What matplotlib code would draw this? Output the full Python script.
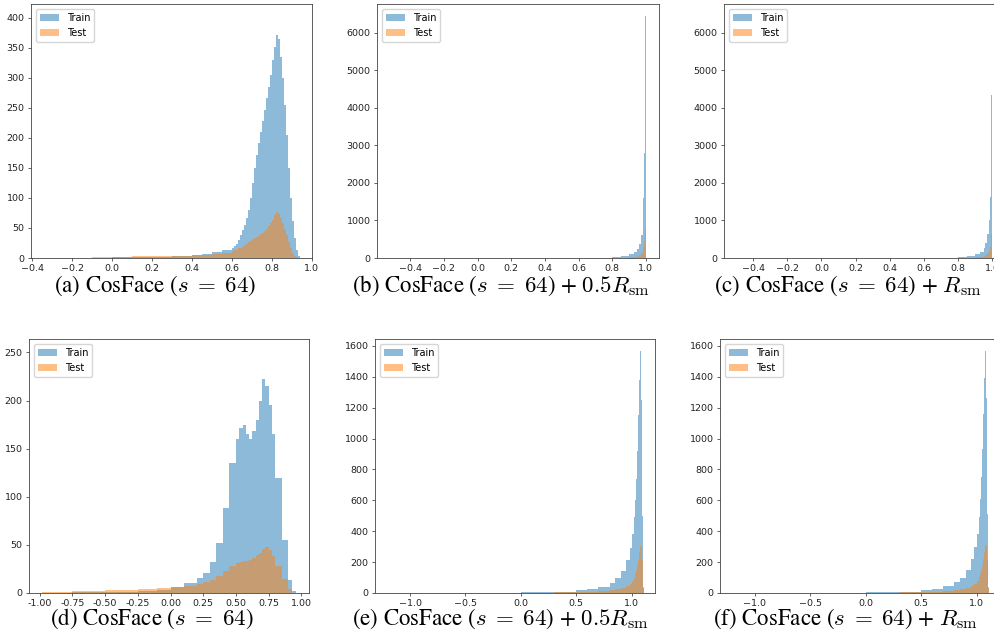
import numpy as np
import matplotlib
matplotlib.use('Agg')
import matplotlib.pyplot as plt

plt.rcParams['mathtext.fontset'] = 'cm'

# ---- histogram data: shared bin edges, per-bin heights for train / test ----
edges_a = [-0.34, -0.2, -0.1, 0.0, 0.1, 0.2, 0.3, 0.4, 0.45, 0.5, 0.55, 0.6,
           0.61, 0.62, 0.63, 0.64, 0.65, 0.66, 0.67, 0.68, 0.69, 0.70, 0.71,
           0.72, 0.73, 0.74, 0.75, 0.76, 0.77, 0.78, 0.79, 0.80, 0.81, 0.82,
           0.83, 0.84, 0.85, 0.86, 0.87, 0.88, 0.89, 0.90, 0.91, 0.92, 0.93,
           0.94]
train_a = [0.3, 0.5, 0.8, 1, 1.5, 2, 3, 4.5, 6, 10, 14,
           17, 20, 24, 30, 38, 46, 55, 66, 80, 100, 125, 150, 172, 192, 210,
           228, 246, 266, 285, 305, 330, 352, 372, 365, 335, 300, 255, 205,
           150, 100, 62, 33, 14, 4]
test_a = [0.5, 0.8, 1.2, 2, 3, 3.5, 4, 4.5, 5.5, 7, 9,
          12, 13, 14, 16, 17, 19, 21, 23, 26, 28, 31, 33, 35, 37, 40, 42,
          45, 49, 53, 58, 64, 71, 77, 74, 66, 58, 48, 38, 27, 17, 9, 4, 1.5,
          0.5]

edges_b = [-0.52, 0.0, 0.4, 0.6, 0.7, 0.8, 0.85, 0.9, 0.93, 0.95, 0.96, 0.97,
           0.98, 0.985, 0.99, 0.994, 0.997, 1.0]
train_b = [0.2, 1, 3, 6, 12, 25, 50, 95, 160, 250, 380, 620, 1000, 1600,
           2800, 4300, 6450]
test_b = [0.2, 0.5, 1, 2, 3, 5, 10, 18, 30, 45, 70, 120, 190, 300, 450,
          620, 760]

edges_c = [-0.52, 0.0, 0.4, 0.6, 0.7, 0.8, 0.85, 0.9, 0.93, 0.95, 0.96, 0.97,
           0.98, 0.985, 0.99, 0.994, 0.997, 1.0]
train_c = [0.2, 1, 3, 6, 12, 26, 52, 98, 165, 255, 390, 630, 1020, 1620,
           2850, 4350, 6480]
test_c = [0.2, 0.5, 1, 2, 3, 5, 10, 19, 31, 46, 72, 125, 195, 305, 455,
          630, 770]

edges_d = [-0.98, -0.75, -0.5, -0.25, -0.1, 0.0, 0.1, 0.2, 0.25, 0.3, 0.35,
           0.4, 0.45, 0.5, 0.525, 0.55, 0.575, 0.6, 0.625, 0.65, 0.675, 0.7,
           0.725, 0.75, 0.775, 0.8, 0.85, 0.9, 0.93, 0.96]
train_d = [0.3, 0.6, 1, 2, 3.5, 6, 10, 16, 21, 32, 52, 88, 135, 160, 172,
           175, 165, 160, 168, 180, 200, 222, 215, 195, 165, 120, 55, 14, 2]
test_d = [0.8, 2, 3, 4, 5, 6, 7, 9, 11, 14, 18, 23, 28, 31, 32, 33, 33, 34,
          36, 39, 42, 46, 48, 45, 38, 28, 15, 4, 0.5]

edges_e = [-1.2, -0.5, 0.0, 0.3, 0.5, 0.6, 0.7, 0.8, 0.85, 0.9, 0.95, 0.98,
           1.0, 1.02, 1.03, 1.04, 1.05, 1.06, 1.07, 1.078, 1.086, 1.092, 1.1,
           1.11]
train_e = [0.2, 1, 4, 9, 18, 27, 42, 68, 95, 145, 215, 290, 380, 490, 600,
           740, 920, 1150, 1380, 1565, 1250, 500, 30]
test_e = [0.3, 2, 3, 4, 6, 8, 12, 17, 24, 33, 45, 58, 78, 100, 125, 150, 180,
          215, 265, 305, 300, 220, 40]

edges_f = [-1.2, -0.5, 0.0, 0.3, 0.5, 0.6, 0.7, 0.8, 0.85, 0.9, 0.95, 0.98,
           1.0, 1.02, 1.03, 1.04, 1.05, 1.06, 1.07, 1.078, 1.086, 1.092, 1.1,
           1.11]
train_f = [0.2, 1, 4, 9, 19, 28, 44, 70, 98, 150, 220, 295, 385, 495, 610,
           750, 930, 1160, 1390, 1570, 1260, 510, 32]
test_f = [0.3, 2, 3, 4, 6, 8, 12, 17, 25, 34, 46, 60, 80, 102, 128, 152, 183,
          218, 268, 308, 302, 222, 42]

captions = [
    r"(a) CosFace ($s\;=\;64$)",
    r"(b) CosFace ($s\;=\;64$) + $0.5R_{\mathrm{sm}}$",
    r"(c) CosFace ($s\;=\;64$) + $R_{\mathrm{sm}}$",
    r"(d) CosFace ($s\;=\;64$)",
    r"(e) CosFace ($s\;=\;64$) + $0.5R_{\mathrm{sm}}$",
    r"(f) CosFace ($s\;=\;64$) + $R_{\mathrm{sm}}$",
]

W, H = 995, 640

# axes boxes in pixels: left, top, width, height
boxes = [(31, 4, 281, 254), (377, 4, 282, 254), (724, 4, 282, 254),
         (29, 339, 280, 254), (375, 339, 280, 254), (720, 339, 280, 254)]
xlims = [(-0.407, 1.002), (-0.598, 1.078), (-0.57, 1.08),
         (-1.081, 1.058), (-1.316, 1.21), (-1.311, 1.21)]
ylims = [(0, 423), (0, 6772), (0, 6772), (0, 264), (0, 1645), (0, 1645)]
caption_xy = [(155, 286), (501, 286), (848, 286),
              (152, 619), (500, 619), (845, 619)]

data = [(edges_a, train_a, test_a), (edges_b, train_b, test_b),
        (edges_c, train_c, test_c), (edges_d, train_d, test_d),
        (edges_e, train_e, test_e), (edges_f, train_f, test_f)]

fig = plt.figure(figsize=(W / 100, H / 100), dpi=100)

for i, (edges, train, test) in enumerate(data):
    l, t, w, h = boxes[i]
    ax = fig.add_axes([l / W, 1 - (t + h) / H, w / W, h / H])
    edges = np.array(edges)
    centers = (edges[:-1] + edges[1:]) / 2
    ax.hist(centers, bins=edges, weights=train, histtype='stepfilled',
            color='#1f77b4', alpha=0.5, linewidth=0, label='Train')
    ax.hist(centers, bins=edges, weights=test, histtype='stepfilled',
            color='#ff7f0e', alpha=0.5, linewidth=0, label='Test')
    ax.set_xlim(*xlims[i])
    ax.set_ylim(*ylims[i])
    if i == 3:
        ax.xaxis.set_major_formatter(matplotlib.ticker.FormatStrFormatter('%.2f'))
    ax.tick_params(labelsize=6.8, length=2.3, width=0.5, pad=2.3,
                   colors='#222222')
    for sp in ax.spines.values():
        sp.set_linewidth(0.6)
        sp.set_color('#444444')
    ax.legend(loc='upper left', fontsize=7)

    cx, cy = caption_xy[i]
    fig.text(cx / W, 1 - cy / H, captions[i], ha='center', va='center',
             fontsize=16.5, family='STIXGeneral')

fig.savefig('out.png', dpi=100)
